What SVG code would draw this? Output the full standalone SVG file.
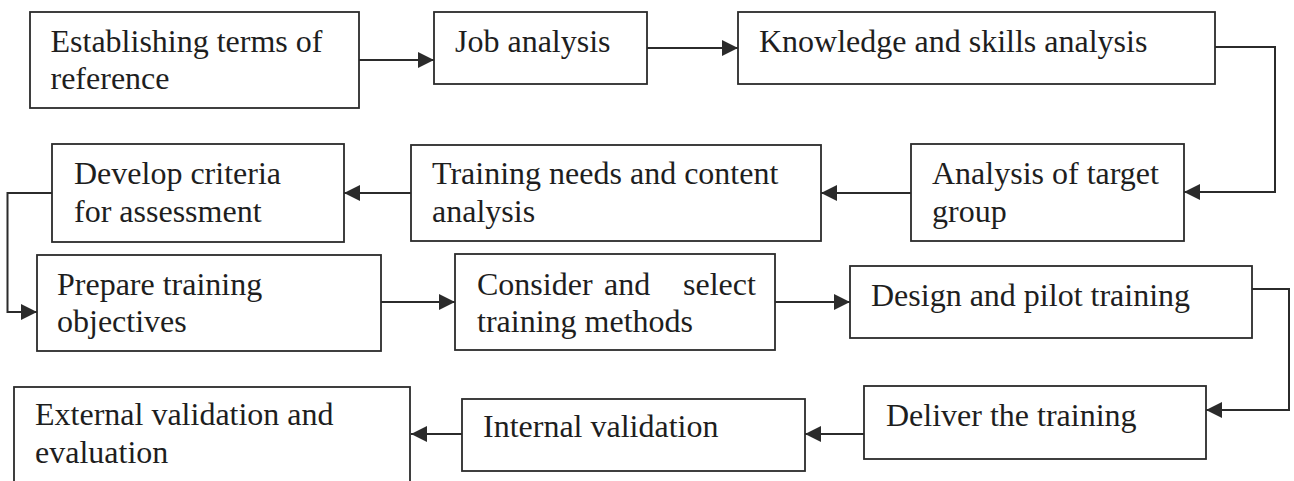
<svg xmlns="http://www.w3.org/2000/svg" width="1294" height="481" viewBox="0 0 1294 481">
<style>
.box{fill:#ffffff;stroke:#2b2b2b;stroke-width:1.8}
.lbl{font-family:'Liberation Serif','Times New Roman',serif;font-size:32px;fill:#1e1e1e}
.conn{fill:none;stroke:#2b2b2b;stroke-width:2}
</style>
<defs>
<marker id="arr" markerUnits="userSpaceOnUse" markerWidth="17" markerHeight="17" refX="16" refY="8" orient="auto">
<path d="M0,0 L16,8 L0,16 z" fill="#2b2b2b"/>
</marker>
</defs>
<rect width="1294" height="481" fill="#ffffff"/>
<g id="connectors">
<path class="conn" d="M359,60 H434" marker-end="url(#arr)"/>
<path class="conn" d="M647,48 H738" marker-end="url(#arr)"/>
<path class="conn" d="M1215,47 H1275 V192 H1184" marker-end="url(#arr)"/>
<path class="conn" d="M911,193 H821" marker-end="url(#arr)"/>
<path class="conn" d="M411,193 H344" marker-end="url(#arr)"/>
<path class="conn" d="M52,193 H7.5 V312 H37" marker-end="url(#arr)"/>
<path class="conn" d="M381,302 H455" marker-end="url(#arr)"/>
<path class="conn" d="M775,302 H850" marker-end="url(#arr)"/>
<path class="conn" d="M1252,289 H1289 V410 H1206" marker-end="url(#arr)"/>
<path class="conn" d="M864,434 H805" marker-end="url(#arr)"/>
<path class="conn" d="M462,434 H411" marker-end="url(#arr)"/>
</g>
<g id="n1"><rect class="box" x="30" y="12" width="329" height="96"/><text class="lbl" x="50.5" y="52">Establishing terms of</text><text class="lbl" x="50.5" y="89">reference</text></g>
<g id="n2"><rect class="box" x="434" y="12" width="213" height="72"/><text class="lbl" x="455" y="52">Job analysis</text></g>
<g id="n3"><rect class="box" x="738" y="12" width="477" height="72"/><text class="lbl" x="759" y="52">Knowledge and skills analysis</text></g>
<g id="n4"><rect class="box" x="911" y="144" width="273" height="97"/><text class="lbl" x="932" y="184">Analysis of target</text><text class="lbl" x="932" y="222">group</text></g>
<g id="n5"><rect class="box" x="411" y="145" width="410" height="96"/><text class="lbl" x="432" y="184">Training needs and content</text><text class="lbl" x="432" y="222">analysis</text></g>
<g id="n6"><rect class="box" x="52" y="144" width="292" height="98"/><text class="lbl" x="74" y="184">Develop criteria</text><text class="lbl" x="74" y="222">for assessment</text></g>
<g id="n7"><rect class="box" x="37" y="255" width="344" height="96"/><text class="lbl" x="57" y="295">Prepare training</text><text class="lbl" x="57" y="332">objectives</text></g>
<g id="n8"><rect class="box" x="455" y="254" width="320" height="96"/><text class="lbl" y="295"><tspan x="477">Consider</tspan> <tspan x="604">and</tspan> <tspan x="683">select</tspan></text><text class="lbl" x="477" y="332">training methods</text></g>
<g id="n9"><rect class="box" x="850" y="266" width="402" height="72"/><text class="lbl" x="871" y="306">Design and pilot training</text></g>
<g id="n10"><rect class="box" x="864" y="386" width="342" height="73"/><text class="lbl" x="886" y="426">Deliver the training</text></g>
<g id="n11"><rect class="box" x="462" y="399" width="343" height="72"/><text class="lbl" x="483" y="437">Internal validation</text></g>
<g id="n12"><rect class="box" x="14" y="387" width="396" height="100"/><text class="lbl" x="35" y="425">External validation and</text><text class="lbl" x="35" y="463">evaluation</text></g>
</svg>
